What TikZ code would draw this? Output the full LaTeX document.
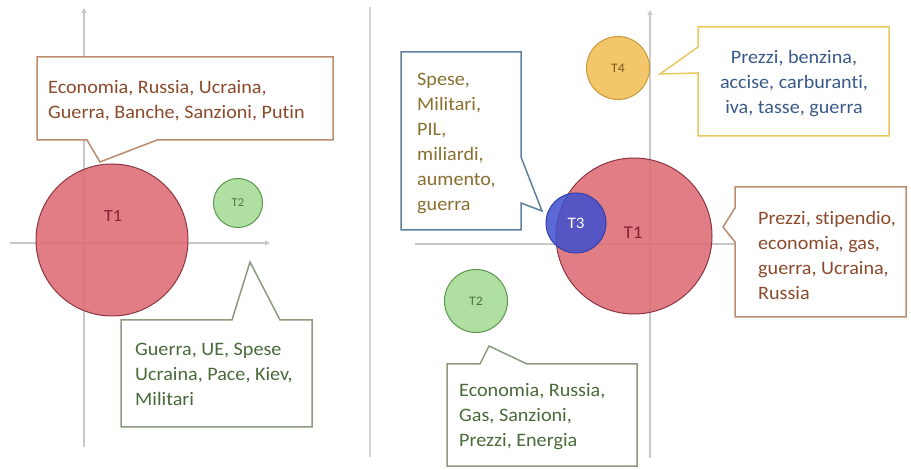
\documentclass[tikz,border=0pt]{standalone}
\usepackage{fontspec}
\setmainfont{Carlito}[FakeStretch=1.06,Ligatures=NoCommon]
\usetikzlibrary{arrows.meta}
\definecolor{axisgray}{HTML}{C8C8C8}
\definecolor{divgray}{HTML}{D4D4D4}
\definecolor{tonefill}{HTML}{DD6F78}
\definecolor{toneline}{HTML}{8E3444}
\definecolor{tonetext}{HTML}{8A2030}
\definecolor{ttwofill}{HTML}{A8DC98}
\definecolor{ttwoline}{HTML}{58984A}
\definecolor{ttwotext}{HTML}{4A7A3A}
\definecolor{tthreefill}{HTML}{3F4FD0}
\definecolor{tthreeline}{HTML}{3040A8}
\definecolor{tfourfill}{HTML}{F2C05A}
\definecolor{tfourline}{HTML}{C89A3C}
\definecolor{tfourtext}{HTML}{7A5A20}
\definecolor{cbrown}{HTML}{BC8C6C}
\definecolor{cgreen}{HTML}{8C9A80}
\definecolor{cblue}{HTML}{6080A0}
\definecolor{cyellow}{HTML}{E8C860}
\definecolor{tbrown}{HTML}{8B4A2B}
\definecolor{tgreen}{HTML}{4A6A3A}
\definecolor{tolive}{HTML}{8A7030}
\definecolor{tblue}{HTML}{3A5A8A}
\begin{document}
\begin{tikzpicture}[x=1pt,y=-1pt,
  axisline/.style={draw=axisgray, line width=1.3pt, -{Triangle[width=5pt,length=5pt]}},
  topic/.style={circle, line width=1pt, inner sep=0pt, fill opacity=0.9, text opacity=1},
  bubble/.style={fill=white, line width=1.5pt, line join=miter},
  words/.style={font=\fontsize{19}{25}\selectfont, inner sep=0pt},
  tlabel/.style={inner sep=0pt}
]
\useasboundingbox[fill=white] (0,0) rectangle (911,470);

% ---------------- left panel ----------------
\coordinate (laxb) at (84,447);
\coordinate (laxt) at (84,8);
\coordinate (lhxl) at (10,243);
\coordinate (lhxr) at (270,243);
\draw[axisline] (laxb) -- (laxt);
\draw[axisline] (lhxl) -- (lhxr);

\node[topic, fill=tonefill, draw=toneline, minimum size=152pt] (lt1) at (112,240) {};
\node[tlabel, text=tonetext, font=\fontsize{17}{17}\selectfont] (lt1l) at (113,216) {T1};
\node[topic, fill=ttwofill, draw=ttwoline, minimum size=49pt] (lt2) at (238,203) {};
\node[tlabel, text=ttwotext, font=\fontsize{12}{12}\selectfont] at (lt2) {T2};

\coordinate (tipa) at (100,162);
\draw[bubble, draw=cbrown] (37,57) -- (333,57) -- (333,140) -- (157,140) -- (tipa) -- (87,140) -- (37,140) -- cycle;
\node[words, text=tbrown, anchor=west, align=left] (wa) at (48,101)
  {Economia, Russia, Ucraina,\\Guerra, Banche, Sanzioni, Putin};

\coordinate (tipb) at (250,262);
\draw[bubble, draw=cgreen] (121,320) -- (232,320) -- (tipb) -- (280,320) -- (312,320) -- (312,427) -- (121,427) -- cycle;
\node[words, text=tgreen, anchor=west, align=left] (wb) at (135,374)
  {Guerra, UE, Spese\\Ucraina, Pace, Kiev,\\Militari};

% divider
\coordinate (dvt) at (370,7);
\coordinate (dvb) at (370,457);
\draw[divgray, line width=2pt] (dvt) -- (dvb);

% ---------------- right panel ----------------
\coordinate (raxb) at (650,458);
\coordinate (raxt) at (650,10);
\coordinate (rhxl) at (415,244);
\coordinate (rhxr) at (890,244);
\draw[axisline] (raxb) -- (raxt);
\draw[axisline] (rhxl) -- (rhxr);

\node[topic, fill=tonefill, draw=toneline, minimum size=156pt] (rt1) at (634,236) {};
\node[tlabel, text=tonetext, font=\fontsize{18}{18}\selectfont] at (633,233) {T1};
\node[topic, fill=tthreefill, draw=tthreeline, minimum size=60pt, fill opacity=0.85] (rt3) at (576,223) {};
\node[tlabel, text=white, font=\fontsize{16}{16}\selectfont] at (rt3) {T3};
\node[topic, fill=tfourfill, draw=tfourline, minimum size=63pt] (rt4) at (618,68) {};
\node[tlabel, text=tfourtext, font=\fontsize{13}{13}\selectfont] at (rt4) {T4};
\node[topic, fill=ttwofill, draw=ttwoline, minimum size=63pt] (rt2) at (476,301) {};
\node[tlabel, text=ttwotext, font=\fontsize{13}{13}\selectfont] at (rt2) {T2};

\coordinate (tipc) at (542,211);
\draw[bubble, draw=cblue] (401,52) -- (521,52) -- (521,157) -- (tipc) -- (521,203) -- (521,230) -- (401,230) -- cycle;
\node[words, text=tolive, anchor=west, align=left] (wc) at (417,143)
  {Spese,\\Militari,\\PIL,\\miliardi,\\aumento,\\guerra};

\coordinate (tipd) at (660,74);
\draw[bubble, draw=cyellow] (698,27) -- (889,27) -- (889,136) -- (698,136) -- (698,73) -- (tipd) -- (698,47) -- cycle;
\node[words, text=tblue, align=center] (wd) at (794,84)
  {Prezzi, benzina,\\accise, carburanti,\\iva, tasse, guerra};

\coordinate (tipe) at (723,227);
\draw[bubble, draw=cbrown] (735,187) -- (906,187) -- (906,317) -- (735,317) -- (735,242) -- (tipe) -- (735,208) -- cycle;
\node[words, text=tbrown, anchor=west, align=left] (we) at (758,255)
  {Prezzi, stipendio,\\economia, gas,\\guerra, Ucraina,\\Russia};

\coordinate (tipf) at (489,346);
\draw[bubble, draw=cgreen] (447,364) -- (480,364) -- (tipf) -- (527,364) -- (637,364) -- (637,466) -- (447,466) -- cycle;
\node[words, text=tgreen, anchor=west, align=left] (wf) at (459,417)
  {Economia, Russia,\\Gas, Sanzioni,\\Prezzi, Energia};
\end{tikzpicture}
\end{document}
